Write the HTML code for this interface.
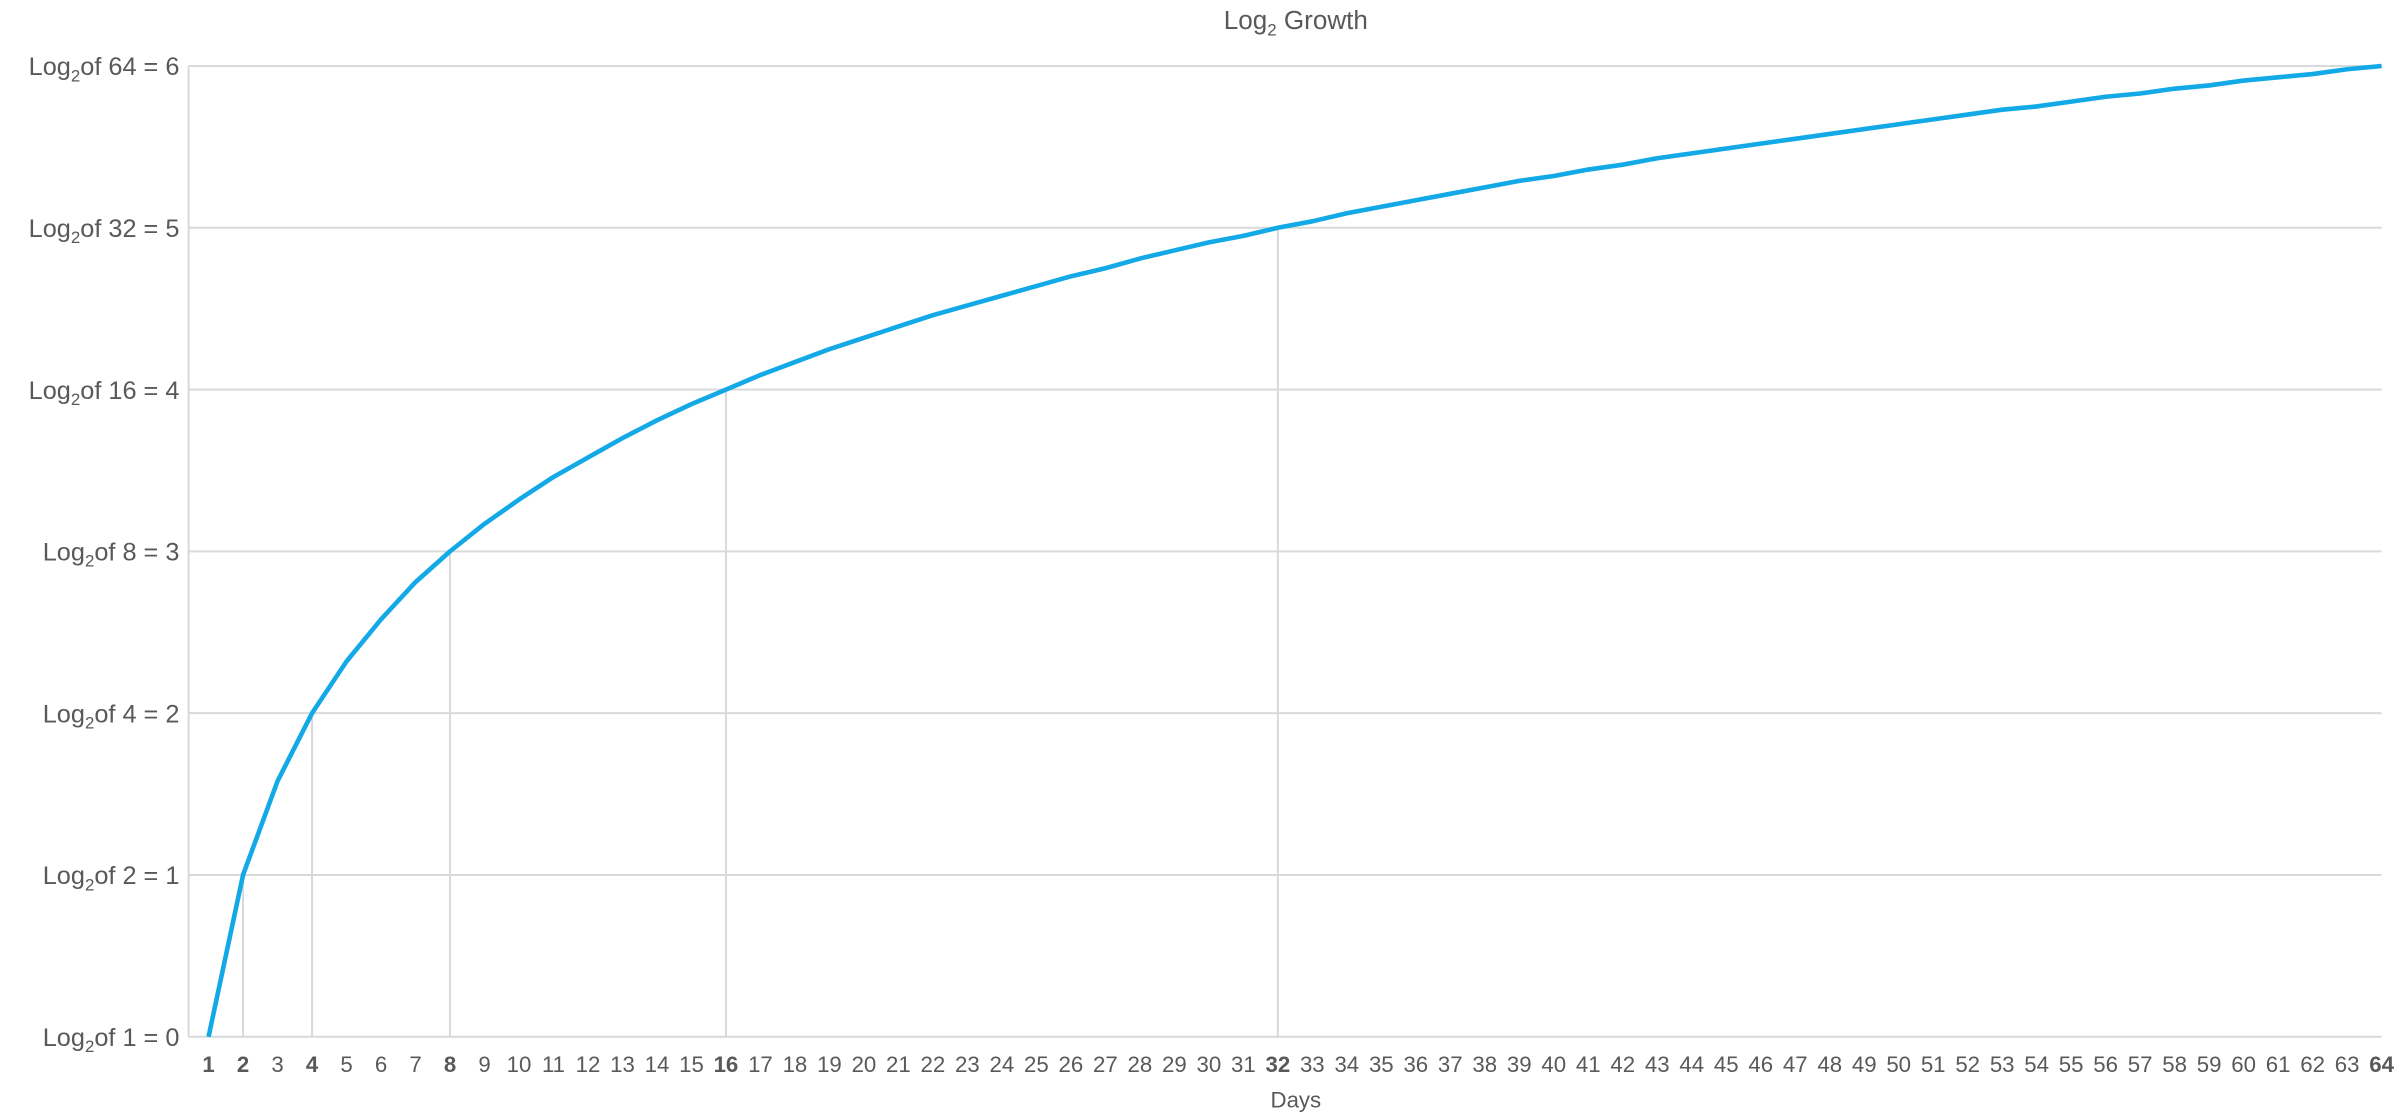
<!DOCTYPE html>
<html><head><meta charset="utf-8"><style>
html,body{margin:0;padding:0;background:#fff;}
svg{display:block;font-family:"Liberation Sans",Arial,sans-serif;}
</style></head><body>
<svg id="chart" width="2400" height="1115" viewBox="0 0 1565 727" xmlns="http://www.w3.org/2000/svg">
<text x="845" y="19" text-anchor="middle" font-size="17" fill="#595959">Log<tspan font-size="11" dy="4">2</tspan><tspan dy="-4"> Growth</tspan></text>
<g id="grid"></g><g id="drops"></g><g id="ylabels"></g><g id="xlabels"></g>
<path id="line" fill="none" stroke="#12a9e6" stroke-width="3" stroke-linejoin="round"/>
<text x="845" y="722" text-anchor="middle" font-size="14.5" fill="#595959">Days</text>
</svg>
<script>
const days = Array.from({length:64},(_, i)=>i+1);
const values = [0,1,1.58,2,2.32,2.58,2.81,3,3.17,3.32,3.46,3.58,3.7,3.81,3.91,4,4.09,4.17,4.25,4.32,4.39,4.46,4.52,4.58,4.64,4.7,4.75,4.81,4.86,4.91,4.95,5,5.04,5.09,5.13,5.17,5.21,5.25,5.29,5.32,5.36,5.39,5.43,5.46,5.49,5.52,5.55,5.58,5.61,5.64,5.67,5.7,5.73,5.75,5.78,5.81,5.83,5.86,5.88,5.91,5.93,5.95,5.98,6];
const yTicks = [0,1,2,3,4,5,6];
const yTickBases = [1,2,4,8,16,32,64];
const boldDays = [1,2,4,8,16,32,64];
const NS='http://www.w3.org/2000/svg';
const X0=136,X1=1553,Y0=676,Y1=43,GL=123;
const xS=d=>X0+(d-1)*(X1-X0)/(days.length-1);
const yS=v=>Y0-(v/6)*(Y0-Y1);
function mk(tag,parent){const e=document.createElementNS(NS,tag);document.getElementById(parent).appendChild(e);return e;}
yTicks.forEach((t,i)=>{
  const l=mk('line','grid');
  
  
  l.setAttribute('x1',GL);l.setAttribute('x2',X1);l.setAttribute('y1',yS(t));l.setAttribute('y2',yS(t));
  l.setAttribute('stroke','#d9d9d9');l.setAttribute('stroke-width','1.3');
  const tx=mk('text','ylabels');
  
  
  tx.setAttribute('x',117);tx.setAttribute('y',yS(t)+6);tx.setAttribute('text-anchor','end');
  tx.setAttribute('font-size','16.5');tx.setAttribute('fill','#595959');
  tx.innerHTML='Log<tspan font-size="11" dy="4">2</tspan><tspan dy="-4">of '+yTickBases[i]+' = '+t+'</tspan>';
});
const ax=mk('line','grid');


ax.setAttribute('x1',GL);ax.setAttribute('x2',GL);ax.setAttribute('y1',Y1);ax.setAttribute('y2',Y0);
ax.setAttribute('stroke','#d9d9d9');ax.setAttribute('stroke-width','1.3');
boldDays.slice(1,6).forEach(d=>{
  const l=mk('line','drops');
  
  
  l.setAttribute('x1',xS(d));l.setAttribute('x2',xS(d));l.setAttribute('y1',yS(values[d-1]));l.setAttribute('y2',Y0);
  l.setAttribute('stroke','#d9d9d9');l.setAttribute('stroke-width','1.3');
});
days.forEach(d=>{
  const tx=mk('text','xlabels');
  
  
  tx.setAttribute('x',xS(d));tx.setAttribute('y',699);tx.setAttribute('text-anchor','middle');
  tx.setAttribute('font-size','14.5');tx.setAttribute('fill','#595959');
  if(boldDays.includes(d))tx.setAttribute('font-weight','bold');
  tx.textContent=d;
});
document.getElementById('line').setAttribute('d',days.map((d,i)=>(i?'L':'M')+xS(d).toFixed(2)+' '+yS(values[i]).toFixed(2)).join(' '));
</script>
</body></html>
